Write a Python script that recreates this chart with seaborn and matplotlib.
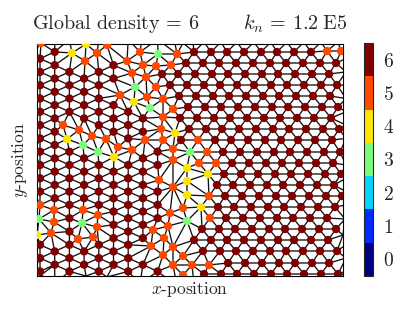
import numpy as np
import pandas as pd
import matplotlib
matplotlib.use('Agg')
import matplotlib.pyplot as plt
import matplotlib.tri as mtri
import seaborn as sns

# right grain: horizontal rows (y) and their x positions
right_y = [52, 63, 74, 85, 96, 107, 118, 129, 140, 152, 163, 174, 185, 196, 207, 218, 229, 240, 251, 263, 274]
right_x = [
    [194, 211, 227, 244, 261, 277, 294, 311],
    [186, 203, 219, 236, 253, 270, 286, 303, 320, 336],
    [162, 178, 195, 212, 228, 245, 262, 278, 295, 312, 329],
    [170, 187, 204, 220, 237, 254, 271, 287, 304, 321, 337],
    [179, 196, 213, 229, 246, 263, 279, 296, 313, 330],
    [188, 205, 221, 238, 255, 272, 288, 305, 322, 338],
    [180, 197, 214, 230, 247, 264, 280, 297, 314, 331],
    [189, 206, 222, 239, 256, 273, 289, 306, 323, 339],
    [181, 215, 231, 248, 265, 281, 298, 315, 332],
    [223, 240, 257, 274, 290, 307, 324, 340],
    [232, 249, 266, 282, 299, 316, 333],
    [224, 241, 258, 275, 291, 308, 325, 341],
    [217, 233, 250, 267, 283, 300, 317, 334],
    [225, 242, 259, 276, 292, 309, 326, 342],
    [218, 234, 251, 268, 284, 301, 318, 335],
    [226, 243, 260, 277, 293, 310, 327],
    [202, 219, 235, 252, 269, 285, 302, 319, 336],
    [194, 211, 227, 244, 261, 278, 294, 311, 328],
    [203, 220, 236, 253, 270, 286, 303, 320, 337],
    [228, 245, 262, 279, 295, 312, 329],
    [204, 221, 237, 254, 271, 287, 304, 321, 338],
]

# left grain: vertical columns (x) and their y positions
left_x = [40, 54.7, 69.4, 84.1, 98.8, 113.5, 128.2, 142.9, 157.6]
left_y = [
    [58.6, 71.9, 85.2, 98.5, 111.8, 125.1, 138.4, 151.7, 165.0, 178.3, 191.6, 244.8, 258.1, 271.4],
    [51.9, 65.2, 78.5, 91.8, 105.1, 118.4, 131.7, 145.0, 158.3, 171.6, 184.9, 198.2, 251.4, 264.7],
    [71.9, 85.2, 98.5, 111.8, 151.7, 165.0, 178.3, 191.6, 204.9, 218.2, 231.5, 244.8, 258.1, 271.4],
    [78.5, 91.8, 105.1, 118.4, 158.3, 171.6, 184.9, 198.2, 251.4, 264.7],
    [71.9, 85.2, 98.5, 111.8, 125.1, 165.0, 178.3, 191.6, 204.9, 244.8, 258.1, 271.4],
    [65.2, 78.5, 105.1, 118.4, 131.7, 171.6, 184.9, 198.2, 211.5, 224.8, 238.1, 251.4, 264.7],
    [111.8, 125.1, 138.4, 165.0, 178.3, 191.6, 204.9, 218.2, 231.5, 244.8, 258.1, 271.4],
    [118.4, 131.7, 158.3, 171.6, 184.9, 198.2, 211.5, 224.8, 238.1, 264.7],
    [151.7, 165.0, 191.6, 204.9, 218.2, 271.4],
]

# particles with fewer than 6 neighbours
defect_x = [41, 86, 107, 72, 97, 85, 127, 140, 132, 143, 156, 158, 177, 171, 146, 135, 156, 120, 147, 134,
            163, 150, 173, 163, 161, 175, 163, 198, 173, 190, 207, 173, 199, 216, 187, 159, 208, 187, 173, 209,
            187, 170, 183, 201, 210, 187, 153, 168, 164, 151, 173, 163, 183, 192, 173, 209, 183,
            63, 79, 67, 92, 106, 83, 118, 98, 114, 132, 145,
            40, 54, 83, 98, 39, 82, 54, 97, 51, 78, 93, 37,
            327, 341]
defect_y = [43, 44, 45, 53, 53, 61, 61, 52, 73, 65, 66, 54, 54, 65, 77, 87, 87, 95, 97, 102,
            99, 108, 109, 117, 129, 133, 140, 140, 149, 152, 152, 160, 163, 163, 168, 180, 174, 181, 187, 196,
            195, 213, 208, 207, 218, 221, 230, 226, 238, 246, 247, 255, 256, 265, 265, 265, 275,
            125, 130, 139, 136, 139, 145, 147, 152, 157, 150, 140,
            205, 210, 210, 215, 219, 223, 222, 227, 233, 239, 237, 235,
            51, 51]
defect_n = [5, 4, 5, 4, 5, 5, 5, 5, 5, 5, 5, 3, 5, 5, 5, 3, 5, 5, 5, 4,
            5, 3, 5, 5, 5, 4, 5, 5, 5, 3, 5, 5, 5, 5, 4, 5, 4, 4, 5, 5,
            4, 5, 5, 4, 5, 3, 5, 5, 5, 5, 5, 5, 5, 5, 5, 5, 5,
            5, 5, 4, 5, 5, 3, 5, 3, 4, 5, 5,
            5, 5, 5, 5, 3, 3, 5, 5, 5, 5, 5, 4,
            5, 5]

levels = [0, 1, 2, 3, 4, 5, 6]

rows = []
for y, xs in zip(right_y, right_x):
    rows += [(x, y, 6) for x in xs]
for x, ys in zip(left_x, left_y):
    rows += [(x, y, 6) for y in ys]
rows += list(zip(defect_x, defect_y, defect_n))
df = pd.DataFrame(rows, columns=['x', 'y', 'n'])

x0, x1, y0, y1 = 37, 343, 44, 276
W, H = x1 - x0, y1 - y0

# periodic images so the mesh runs through the box edges
px, py = [], []
for dx in (-W, 0, W):
    for dy in (-H, 0, H):
        px.append(df.x.values + dx)
        py.append(df.y.values + dy)
px = np.concatenate(px)
py = np.concatenate(py)
keep = (px > x0 - 40) & (px < x1 + 40) & (py > y0 - 40) & (py < y1 + 40)
tri = mtri.Triangulation(px[keep], py[keep])

sns.set_style('white')
plt.rcParams['font.family'] = 'cmr10'
plt.rcParams['mathtext.fontset'] = 'cm'
plt.rcParams['axes.formatter.use_mathtext'] = True

cmap = plt.get_cmap('jet', 7)
pal = {n: cmap(n) for n in levels}

fig = plt.figure(figsize=(4.07, 3.14), dpi=100)
ax = fig.add_axes([37 / 407, 1 - 276 / 314, 306 / 407, 232 / 314])
cax = fig.add_axes([364 / 407, 1 - 276 / 314, 9 / 407, 233 / 314])

ax.triplot(tri, color='#111111', lw=0.95, zorder=1)
sns.scatterplot(data=df, x='x', y='y', hue='n', palette=pal, s=36, linewidth=0,
                legend=False, ax=ax, zorder=3)
ax.set_xlim(x0, x1)
ax.set_ylim(y1, y0)
ax.set_xticks([])
ax.set_yticks([])
for sp in ax.spines.values():
    sp.set_color('k')
    sp.set_linewidth(0.8)
ax.set_xlabel(r'$x$-position', fontsize=12.5, labelpad=3)
ax.set_ylabel(r'$y$-position', fontsize=12.5, labelpad=5)
ax.set_title(r'$\mathrm{Global\ density}\,=\,6\qquad\;\; k_n\,=\,1.2\;\mathrm{E}5$', fontsize=14.5, pad=11)

sm = plt.cm.ScalarMappable(norm=plt.Normalize(-0.5, 6.5), cmap=cmap)
cb = fig.colorbar(sm, cax=cax, ticks=levels)
cb.ax.tick_params(length=0, labelsize=14, pad=7)
cb.outline.set_linewidth(0.8)

fig.savefig('out.png', dpi=100)
